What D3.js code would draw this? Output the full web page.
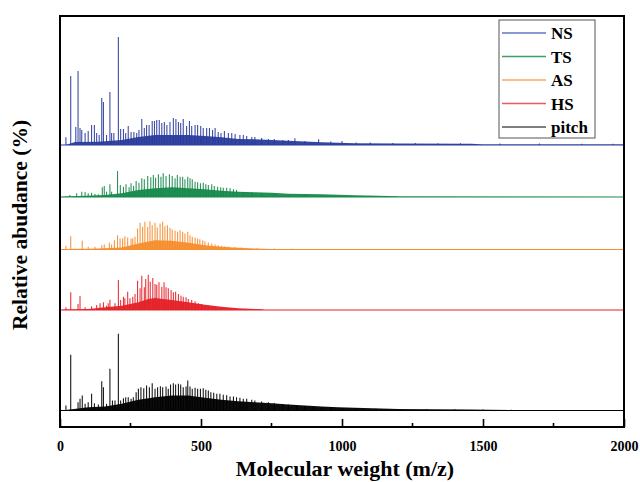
<!DOCTYPE html>
<html><head><meta charset="utf-8">
<script src="https://cdn.jsdelivr.net/npm/d3@7"></script>
<style>body{margin:0;background:#fff}svg{display:block}</style>
</head><body>
<script>
// ---------------- DATA ----------------
const seriesNames = ["NS", "TS", "AS", "HS", "pitch"];
const xTicks = [0, 500, 1000, 1500, 2000];
const xMinorTicks = [250, 750, 1250, 1750];

// peaks: [m/z, abundance]
const nsPeaks = [[21,7.7],[38,69],[56,18],[64,74],[71,17],[77,15],[89,12],[100,14],[112,20],[122,20],[130,12],[139,10],[148,47],[154,43],[165,10],[177,53],[183,12],[191,12],[207,108],[215,16],[225,16],[233,12],[242,19],[252,13],[262,13],[272,12],[280,15],[290,26],[299,17],[307,20],[316,20],[327,24],[335,24],[343,25],[352,25],[361,22],[370,23],[379,20],[390,23],[402,27],[411,26],[420,23],[428,22],[437,26],[449,19],[459,24],[467,19],[479,20],[488,20],[499,19],[508,17],[520,17],[530,17],[541,15],[550,17],[561,13],[571,12],[583,14],[597,12],[609,12],[621,11],[638,10],[650,10],[662,9],[680,8],[691,8],[715,7],[739,6],[760,6],[790,5],[810,5],[833,6.7],[869,4],[917,5.7],[960,3.5],[1000,4],[1050,2.5],[1100,2.5],[1180,2],[1260,2],[1340,1.8],[1420,1.8],[1560,1.5],[1700,1.5],[1850,1.2],[1960,1.2]];
const nsEnvelope = [[0,0],[20,0],[53,3],[136,3.3],[219,5],[278,8],[337,10],[396,10],[455,10],[514,9],[573,7.7],[632,6],[691,5.7],[810,4.3],[928,2.7],[1046,1.7],[1200,1.5],[1460,1.2],[1500,0.5],[2000,0.6]];

const tsPeaks = [[35,2],[59,3.7],[77,5.3],[89,5],[100,3.7],[112,4.3],[124,3],[136,2.7],[150,9.7],[157,11],[165,5.3],[177,12.7],[183,5.3],[204,26],[214,12],[225,10.3],[234,12.7],[245,9.7],[252,13.7],[261,11],[270,16],[280,14.3],[290,18.7],[299,17.7],[311,21],[322,19.7],[331,22],[339,19.3],[349,22.7],[358,20.3],[366,23.7],[376,21],[388,22.7],[398,21],[408,18.7],[416,22],[426,20.3],[435,20.3],[443,17.7],[453,20.3],[461,18.7],[469,17.7],[479,15.3],[488,14.7],[498,13.7],[508,14.3],[517,12.7],[526,12],[538,12.7],[547,11],[559,10.3],[570,9.7],[579,9.3],[591,9.3],[603,8.7],[615,7.7],[626,7],[650,5],[680,4.5],[715,4],[760,3.5],[810,3],[870,2.5],[930,2],[1000,1.5],[1100,1.2],[1190,1]];
const tsEnvelope = [[0,0],[20,0.5],[160,2],[219,3.7],[278,7],[337,8.7],[396,9.7],[455,8.7],[514,7.7],[573,6.3],[632,5.3],[691,4.7],[751,4.3],[810,3.3],[928,2.7],[1046,1.7],[1165,1],[1200,0.4],[2000,0]];

const asPeaks = [[21,3.7],[38,13.3],[79,8.7],[100,2.7],[124,2.7],[148,4.3],[157,5],[175,6.7],[183,5],[193,9.3],[204,14.3],[213,11],[222,11],[230,13.3],[240,12],[252,11],[258,11],[266,12.7],[275,21],[284,26.7],[293,22.7],[301,27.7],[311,22.7],[319,28.3],[327,24.3],[337,26.7],[345,22],[355,26],[364,27.7],[372,23.3],[381,24.3],[390,21.7],[398,20],[408,18.7],[417,17.7],[426,19.3],[435,17.7],[443,16],[453,17.7],[461,14.3],[469,12.7],[479,12],[488,11],[496,10.3],[506,9.3],[514,8.3],[526,7],[538,6],[550,5],[561,4.3],[573,3.7],[585,3.3],[597,2.7],[621,2.3],[644,2],[700,1.2],[760,1],[820,0.8],[900,0.6]];
const asEnvelope = [[0,0],[20,0.5],[53,0.7],[100,0.7],[160,1.2],[219,2],[278,6],[337,9.3],[396,8.7],[455,6.7],[514,4.3],[573,2.7],[632,1.7],[691,1],[751,0.4],[940,0.3],[950,0],[2000,0]];

const hsPeaks = [[21,2.7],[38,17.7],[64,6],[71,14],[89,2.7],[112,3.7],[130,5],[142,6.7],[154,7.7],[165,4.3],[171,6.7],[177,10.3],[195,6.7],[207,30],[215,10],[225,13.3],[230,11.7],[240,18.3],[248,11.7],[258,13.3],[266,16],[275,29.3],[284,21.7],[290,34.3],[299,22.7],[304,31],[313,35.3],[320,28.3],[329,32],[337,26],[343,25.3],[351,27.7],[361,23.3],[369,27.7],[376,22.7],[384,21.7],[394,20],[402,17.7],[410,18.3],[420,16],[429,14.3],[437,13.3],[447,12.7],[455,11],[467,10],[479,8.7],[491,6.7],[502,6],[514,5],[526,4.3],[538,3.7],[550,3.3],[573,2.7],[597,2],[621,1.7],[660,1.2],[700,1]];
const hsEnvelope = [[0,0],[20,0.5],[100,1],[160,2.7],[219,4.3],[278,7.7],[313,11],[337,12],[396,10],[455,7.7],[514,5.3],[573,3.3],[632,1.7],[691,1],[715,0.7],[725,0],[2000,0]];

const pitchPeaks = [[21,5],[38,55.7],[64,8.3],[71,11.7],[79,15],[89,6.7],[100,8.3],[112,16.7],[122,7.3],[136,6],[148,29.3],[154,23.3],[165,6.7],[177,41.7],[186,10],[195,10],[207,76.7],[215,10],[225,12.3],[233,13.3],[242,13.3],[252,11.7],[260,13.3],[270,18.3],[278,21.7],[287,23.3],[297,22.3],[307,25],[317,23.3],[327,27.3],[337,21.7],[346,23.3],[356,24.3],[364,23.3],[376,24],[384,21.7],[392,26],[402,27.3],[410,26],[420,26.7],[428,26],[437,23.3],[447,24],[453,30],[461,24],[469,21.7],[479,22.7],[488,21.7],[498,21.7],[508,22.3],[517,20.7],[526,20],[535,18.3],[545,17.7],[556,16.7],[567,16.7],[579,15.7],[591,15.3],[603,14],[615,14],[626,13.3],[638,12.7],[650,11.7],[662,11.7],[680,10.7],[691,10],[715,9],[739,8.3],[760,7.5],[790,6.5],[810,6],[840,5],[869,4.5],[900,4],[928,3.5],[960,3],[1000,2.5],[1050,2],[1120,1.8],[1200,1.6],[1300,1.3],[1400,1.2],[1500,1],[1600,0.8]];
const pitchEnvelope = [[0,0],[20,0.5],[100,3.3],[160,4],[219,6.7],[278,10.7],[337,13.3],[396,15],[455,15],[514,12.7],[573,10.7],[632,9.3],[691,8.3],[751,7.3],[810,6],[869,5],[928,4],[987,3.3],[1046,2.7],[1200,1.5],[1450,1],[1610,0.5],[1620,0],[2000,0]];

// ---------------- LAYOUT ----------------
const W = 640, H = 482;
const frame = {left: 60, right: 624, top: 16, bottom: 427};
const baselinePx = {NS: 145, TS: 197, AS: 249.5, HS: 310, pitch: 410.5};
const colors = {NS: "#2a3c9c", TS: "#16894a", AS: "#f68e2e", HS: "#e42128", pitch: "#000000"};
const legendColors = {NS: "#6474c4", TS: "#3f9f64", AS: "#f7a869", HS: "#ee5a5c", pitch: "#555555"};
const seriesData = {
  NS: [nsPeaks, nsEnvelope], TS: [tsPeaks, tsEnvelope], AS: [asPeaks, asEnvelope],
  HS: [hsPeaks, hsEnvelope], pitch: [pitchPeaks, pitchEnvelope]
};

const svg = d3.select("body").append("svg").attr("width", W).attr("height", H);

const x = d3.scaleLinear().domain([0, 2000]).range([frame.left, frame.right]);
const yAb = d3.scaleLinear().domain([0, 100]).range([0, 100]);

const plot = svg.append("g");
seriesNames.forEach(name => {
  const [peaks, env] = seriesData[name];
  const base = baselinePx[name];
  const g = plot.append("g").attr("transform", `translate(0,${base})`);
  const area = d3.area().x(d => x(d[0])).y0(0).y1(d => -yAb(d[1]));
  g.append("path").datum(env).attr("d", area).attr("fill", colors[name]).attr("opacity", 0.95);
  g.selectAll("line.pk").data(peaks).join("line")
    .attr("class", "pk")
    .attr("x1", d => x(d[0])).attr("x2", d => x(d[0]))
    .attr("y1", 0).attr("y2", d => -yAb(d[1]))
    .attr("stroke", colors[name]).attr("stroke-width", 1.1).attr("opacity", 0.9);
  g.append("line").attr("x1", x(0)).attr("x2", x(2000)).attr("y1", 0).attr("y2", 0)
    .attr("stroke", colors[name]).attr("stroke-width", 1.2);
});

// frame
svg.append("rect").attr("x", frame.left).attr("y", frame.top)
  .attr("width", frame.right - frame.left).attr("height", frame.bottom - frame.top)
  .attr("fill", "none").attr("stroke", "#000").attr("stroke-width", 2);

// x axis ticks (inward)
const axisG = svg.append("g").attr("transform", `translate(0,${frame.bottom})`);
const xAxis = d3.axisBottom(x).tickValues(xTicks).tickSizeInner(-8).tickSizeOuter(0).tickPadding(14).tickFormat(d3.format("d"));
axisG.call(xAxis);
axisG.select(".domain").remove();
axisG.selectAll(".tick line").attr("stroke-width", 1.6);
axisG.selectAll(".tick text").attr("font-family", "Liberation Serif, Times New Roman, serif")
  .attr("font-weight", "bold").attr("font-size", 14).attr("fill", "#000");
axisG.selectAll("line.minor").data(xMinorTicks).join("line").attr("class", "minor")
  .attr("x1", d => x(d)).attr("x2", d => x(d)).attr("y1", 0).attr("y2", -4)
  .attr("stroke", "#000").attr("stroke-width", 1.6);

// axis titles
svg.append("text").attr("x", 345).attr("y", 476).attr("text-anchor", "middle")
  .attr("font-family", "Liberation Serif, Times New Roman, serif").attr("font-weight", "bold")
  .attr("font-size", 22).text("Molecular weight (m/z)");
svg.append("text").attr("transform", "translate(27,225) rotate(-90)").attr("text-anchor", "middle")
  .attr("font-family", "Liberation Serif, Times New Roman, serif").attr("font-weight", "bold")
  .attr("font-size", 21.5).text("Relative abudance (%)");

// legend
const lg = svg.append("g");
lg.append("rect").attr("x", 499).attr("y", 20).attr("width", 96).attr("height", 118)
  .attr("fill", "#fff").attr("stroke", "#555").attr("stroke-width", 1);
seriesNames.forEach((name, i) => {
  const yy = 33 + i * 23.5;
  lg.append("line").attr("x1", 502).attr("x2", 546).attr("y1", yy).attr("y2", yy)
    .attr("stroke", legendColors[name]).attr("stroke-width", 1.3);
  lg.append("text").attr("x", 551).attr("y", yy + 6)
    .attr("font-family", "Liberation Serif, Times New Roman, serif").attr("font-weight", "bold")
    .attr("font-size", 17).text(name);
});
</script>
</body></html>
